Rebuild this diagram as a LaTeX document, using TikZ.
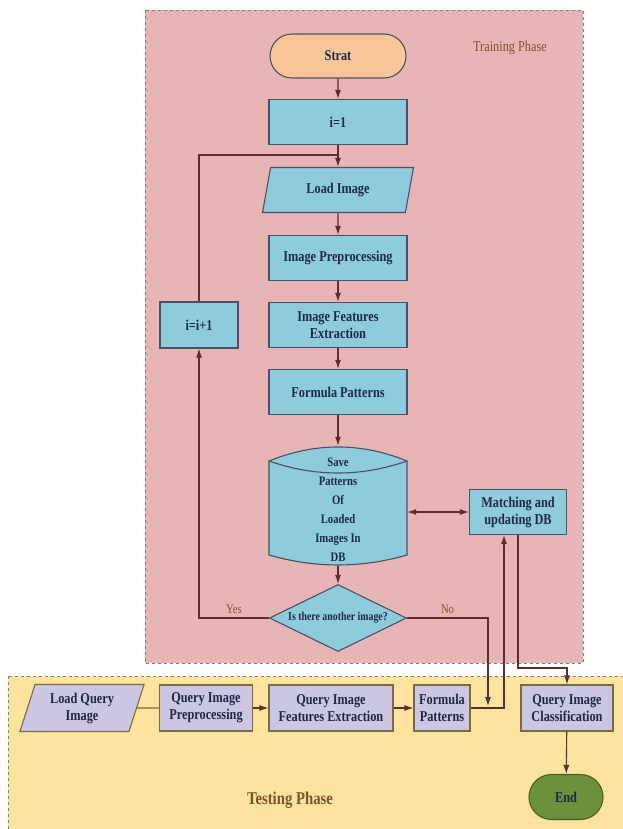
\documentclass[tikz,border=0pt]{standalone}
\usepackage{fontspec}
\setmainfont{Liberation Serif}[FakeStretch=0.82]
\usetikzlibrary{shapes.geometric,shapes.misc,arrows.meta,calc}

\definecolor{trainpink}{RGB}{231,181,181}
\definecolor{testyellow}{RGB}{252,227,158}
\definecolor{boxblue}{RGB}{142,204,220}
\definecolor{boxline}{RGB}{72,82,100}
\definecolor{startorange}{RGB}{248,198,152}
\definecolor{querylav}{RGB}{202,198,228}
\definecolor{queryline}{RGB}{125,105,62}
\definecolor{endgreen}{RGB}{108,145,62}
\definecolor{endline}{RGB}{70,95,40}
\definecolor{textnavy}{RGB}{30,40,70}
\definecolor{flowline}{RGB}{95,45,45}
\definecolor{phasebrown}{RGB}{125,82,45}

\tikzset{
    base/.style={draw=boxline, line width=1.1pt, text=textnavy, align=center, inner sep=1pt,
        font=\fontsize{15}{17}\selectfont\bfseries},
    proc/.style={base, rectangle, fill=boxblue, minimum width=138pt, minimum height=45pt},
    inout/.style={base, trapezium, trapezium left angle=76, trapezium right angle=104,
        trapezium stretches=true, fill=boxblue, minimum width=152pt, minimum height=45pt},
    term/.style={base, rounded rectangle, minimum width=138pt, minimum height=44pt},
    store/.style={rectangle, minimum width=140pt, minimum height=120pt,
        path picture={
            \draw[draw=boxline,line width=1.1pt,fill=boxblue]
                ($(path picture bounding box.north west)+(1,15)$) coordinate (dbtl)
                .. controls ($(path picture bounding box.north west)+(47,-3.7)$) and ($(path picture bounding box.north east)+(-47,-3.7)$)
                .. ($(path picture bounding box.north east)+(-1,15)$) coordinate (dbtr)
                -- ($(path picture bounding box.south east)+(-1,-11)$)
                .. controls ($(path picture bounding box.south east)+(-47,2.3)$) and ($(path picture bounding box.south west)+(47,2.3)$)
                .. ($(path picture bounding box.south west)+(1,-11)$) -- cycle;
            \draw[draw=boxline,line width=1.1pt] (dbtl) .. controls ($(dbtl)+(46,16)$) and ($(dbtr)+(-46,16)$) .. (dbtr);
        }},
    storetext/.style={text=textnavy, align=center, font=\fontsize{13}{19}\selectfont\bfseries},
    decide/.style={base, diamond, fill=boxblue, aspect=2, minimum width=137pt, minimum height=67pt,
        font=\fontsize{12}{13}\selectfont\bfseries},
    query/.style={base, rectangle, draw=queryline, fill=querylav, minimum height=46pt},
    flow/.style={draw=flowline, line width=1.1pt},
    phase/.style={text=phasebrown}
}

\begin{document}
\begin{tikzpicture}[x=1pt,y=-1pt,>={Latex[length=9pt,width=6pt]}]
        \useasboundingbox (0,0) rectangle (622,829);
        % phase panels
        \draw[gray,dashed,line width=0.8pt,fill=trainpink] (145,10) rectangle (583,663);
        \draw[gray,dashed,line width=0.8pt,fill=testyellow] (8,676) rectangle (640,850);
        \node[phase,font=\fontsize{15}{17}\selectfont] (trainlbl) at (510,48) {Training Phase};
        \node[phase,font=\fontsize{18}{20}\selectfont\bfseries] (testlbl) at (290,800) {Testing Phase};

        \node[term,fill=startorange] (strat) at (338,56) {Strat};
        \node[proc] (init) at (338,122) {i=1};
        \node[inout] (load) at (338,190) {Load Image};
        \node[proc] (prep) at (338,258) {Image Preprocessing};
        \node[proc] (feat) at (338,325) {Image Features\\Extraction};
        \node[proc] (form) at (338,392) {Formula Patterns};
        \node[store,label={[storetext,yshift=-4pt]center:Save\\Patterns\\Of\\Loaded\\Images In\\DB}] (db) at (338,506) {};
        \node[decide] (another) at (338,618) {Is there another image?};
        \node[proc,minimum width=78pt,minimum height=46pt] (incr) at (199,325) {i=i+1};
        \node[proc,minimum width=97pt] (match) at (518,512) {Matching and\\updating DB};

        \node[query,trapezium,trapezium left angle=72,trapezium right angle=108,trapezium stretches=true,
            minimum width=125pt,minimum height=47pt] (qload) at (82,708) {Load Query\\Image};
        \node[query,minimum width=93pt] (qprep) at (206,708) {Query Image\\Preprocessing};
        \node[query,minimum width=124pt] (qfeat) at (331,708) {Query Image\\Features Extraction};
        \node[query,minimum width=56pt] (qform) at (442,708) {Formula\\Patterns};
        \node[query,minimum width=92pt] (qclass) at (567,708) {Query Image\\Classification};
        \node[term,draw=endline,fill=endgreen,minimum width=76pt,minimum height=45pt] (end) at (566,797) {End};

        \coordinate (loopin) at (338,155);
        \coordinate (nodown) at (488,706);
        \coordinate (classin) at (567,668);

        \draw[flow,->] (strat) -- (init);
        \draw[flow,->] (init) -- (load);
        \draw[flow,->] (load) -- (prep);
        \draw[flow,->] (prep) -- (feat);
        \draw[flow,->] (feat) -- (form);
        \draw[flow,->] (form) -- (db);
        \draw[flow,->] (db) -- (another);
        \draw[flow,->] (another.west) -| node[pos=0.25,above,phase,font=\fontsize{13}{15}\selectfont] {Yes} (incr.south);
        \draw[flow] (incr.north) |- (loopin);
        \draw[flow,->] (another.east) -| node[pos=0.25,above,phase,font=\fontsize{13}{15}\selectfont] {No} (nodown);
        \draw[flow,<->] ($(match.west -| db.east)+(-1,0)$) -- (match.west);
        \draw[flow,->] (qform.east) -| ([xshift=-14pt]match.south);
        \draw[flow,->] (match.south) |- (classin) -- (qclass.north);

        \draw[draw=queryline,line width=1.1pt] (qload) -- (qprep);
        \draw[flow,->] (qprep) -- (qfeat);
        \draw[flow,->] (qfeat) -- (qform);
        \draw[flow,->] (qclass) -- (end);
    \end{tikzpicture}
\end{document}
